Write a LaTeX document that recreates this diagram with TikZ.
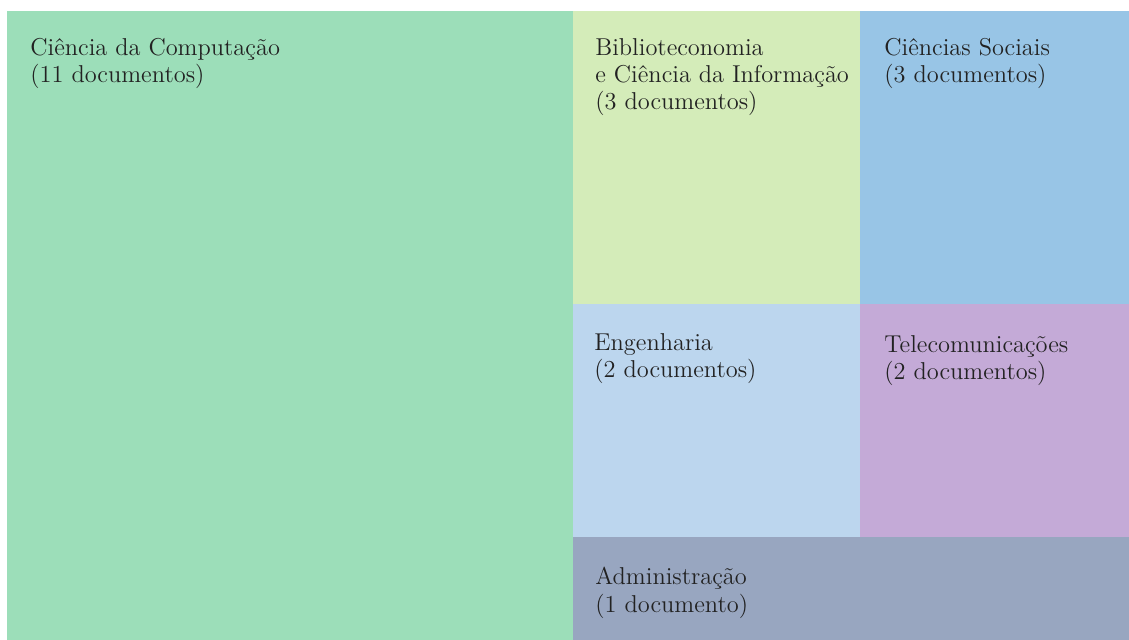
\documentclass[tikz,border=0pt]{standalone}
\usepackage{xcolor}
\definecolor{computacao}{HTML}{9CDEB9}
\definecolor{biblio}{HTML}{D4ECB9}
\definecolor{sociais}{HTML}{98C5E6}
\definecolor{engenharia}{HTML}{BCD6EE}
\definecolor{telecom}{HTML}{C4AAD7}
\definecolor{admin}{HTML}{98A6C0}
\definecolor{texto}{HTML}{222222}
\begin{document}
\begin{tikzpicture}[x=0.5pt,y=-0.5pt]

		\tikzstyle{area}=[draw=none]
		\tikzstyle{rotulo}=[anchor=north west,
			align=left,inner sep=0mm,
			text=texto,
			font=\fontsize{12.2}{13.6}\selectfont]

		\useasboundingbox[fill=white]	(0,0) rectangle (1129,640);

		\fill[area,computacao]	(7,11)		rectangle	(573,640);
		\fill[area,biblio]	(573,11)	rectangle	(860,304);
		\fill[area,sociais]	(860,11)	rectangle	(1129,304);
		\fill[area,engenharia]	(573,304)	rectangle	(860,537);
		\fill[area,telecom]	(860,304)	rectangle	(1129,537);
		\fill[area,admin]	(573,537)	rectangle	(1129,640);

		\node[rotulo]	(computacao-t)	at (30,38)	{Ciência da Computação\\ (11 documentos)};
		\node[rotulo]	(biblio-t)	at (595,38)	{Biblioteconomia\\ e Ciência da Informação\\ (3 documentos)};
		\node[rotulo]	(sociais-t)	at (884,38)	{Ciências Sociais\\ (3 documentos)};
		\node[rotulo]	(engenharia-t)	at (594,333)	{Engenharia\\ (2 documentos)};
		\node[rotulo]	(telecom-t)	at (884,335)	{Telecomunicações\\ (2 documentos)};
		\node[rotulo]	(admin-t)	at (595,567)	{Administração\\ (1 documento)};

	\end{tikzpicture}
\end{document}
